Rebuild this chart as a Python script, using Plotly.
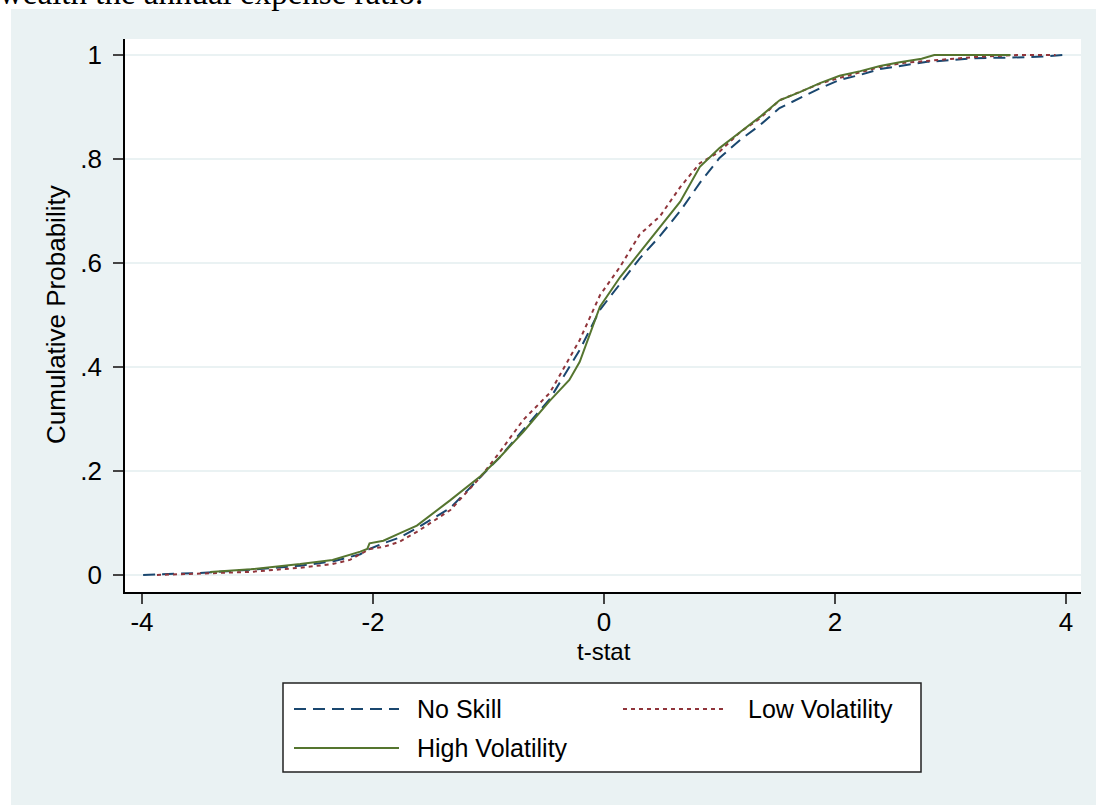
import plotly.graph_objects as go

noskill_x = [-3.99, -3.5, -3.06, -2.63, -2.35, -2.11, -2.03, -1.91, -1.77, -1.62, -1.33, -1.07, -0.9, -0.7,
             -0.47, -0.21, -0.035, 0.14, 0.31, 0.485, 0.66, 0.83, 1.0, 1.18, 1.35, 1.52, 1.70, 1.87, 2.04,
             2.22, 2.39, 2.56, 2.8, 3.0, 3.2, 3.5, 3.8, 3.97]
noskill_y = [0.0, 0.004, 0.01, 0.018, 0.026, 0.04, 0.05, 0.061, 0.072, 0.09, 0.129, 0.188, 0.227, 0.279,
             0.338, 0.433, 0.51, 0.56, 0.609, 0.652, 0.700, 0.754, 0.802, 0.837, 0.865, 0.898, 0.917, 0.936,
             0.952, 0.962, 0.973, 0.979, 0.987, 0.99, 0.994, 0.995, 0.997, 1.0]

lowvol_x = [-3.87, -3.4, -3.06, -2.63, -2.35, -2.2, -2.03, -1.91, -1.77, -1.62, -1.33, -1.07, -0.9, -0.7,
            -0.47, -0.21, -0.035, 0.14, 0.31, 0.485, 0.66, 0.83, 1.0, 1.18, 1.35, 1.52, 1.70, 1.87, 2.04,
            2.22, 2.39, 2.6, 2.9, 3.2, 3.57, 3.91]
lowvol_y = [0.0, 0.003, 0.006, 0.014, 0.021, 0.029, 0.05, 0.054, 0.064, 0.083, 0.125, 0.188, 0.237, 0.298,
            0.35, 0.452, 0.538, 0.593, 0.655, 0.69, 0.746, 0.792, 0.814, 0.852, 0.878, 0.913, 0.93, 0.945,
            0.956, 0.967, 0.977, 0.985, 0.99, 0.996, 1.0, 1.0]

highvol_x = [-3.41, -3.06, -2.63, -2.35, -2.11, -2.05, -2.03, -1.91, -1.77, -1.62, -1.33, -1.07, -0.9, -0.7,
             -0.47, -0.3, -0.21, -0.035, 0.14, 0.31, 0.485, 0.66, 0.83, 1.0, 1.18, 1.35, 1.52, 1.70, 1.87,
             2.04, 2.22, 2.39, 2.56, 2.75, 2.86, 3.52]
highvol_y = [0.006, 0.011, 0.021, 0.029, 0.045, 0.05, 0.061, 0.066, 0.08, 0.095, 0.144, 0.19, 0.227, 0.275,
             0.335, 0.375, 0.41, 0.516, 0.573, 0.621, 0.669, 0.718, 0.785, 0.821, 0.852, 0.881, 0.913, 0.929,
             0.946, 0.96, 0.969, 0.979, 0.986, 0.993, 1.0, 1.0]

series_names = ["No Skill", "Low Volatility", "High Volatility"]
x_ticks = [-4, -2, 0, 2, 4]
x_ticklabels = ["-4", "-2", "0", "2", "4"]
y_ticks = [0, 0.2, 0.4, 0.6, 0.8, 1]
y_ticklabels = ["0", ".2", ".4", ".6", ".8", "1"]

# ---- styling ----
W, H = 1096, 805
L, R, T, B = 125, 1081, 39, 592
BG = "#EAF2F3"
NAVY = "#1A476F"
MAROON = "#90353B"
GREEN = "#55752F"
FONT = "Liberation Sans, Arial, sans-serif"
BLUE_DASH = "12px,7px"
RED_DASH = "4px,4px"


def px(xp):
    return (xp - L) / (R - L)


def py(yp):
    return (B - yp) / (B - T)


fig = go.Figure()
fig.add_trace(go.Scatter(x=noskill_x, y=noskill_y, mode="lines", name=series_names[0],
                         line=dict(color=NAVY, width=2, dash=BLUE_DASH), showlegend=False))
fig.add_trace(go.Scatter(x=lowvol_x, y=lowvol_y, mode="lines", name=series_names[1],
                         line=dict(color=MAROON, width=2, dash=RED_DASH), showlegend=False))
fig.add_trace(go.Scatter(x=highvol_x, y=highvol_y, mode="lines", name=series_names[2],
                         line=dict(color=GREEN, width=2), showlegend=False))

shapes = [
    # outer graph region
    dict(type="rect", xref="paper", yref="paper", x0=px(11), x1=px(W + 5), y0=py(H + 5), y1=py(9),
         fillcolor=BG, line=dict(width=0), layer="below"),
    # plot region
    dict(type="rect", xref="paper", yref="paper", x0=0, x1=1, y0=0, y1=1,
         fillcolor="white", line=dict(width=0), layer="below"),
    # legend box
    dict(type="rect", xref="paper", yref="paper", x0=px(283), x1=px(921), y0=py(772), y1=py(683),
         fillcolor="white", line=dict(color="#222222", width=1.5), layer="above"),
]

annotations = []
legend_items = [
    (series_names[0], NAVY, BLUE_DASH, 294, 399, 415, 709),
    (series_names[1], MAROON, RED_DASH, 623, 724, 746, 709),
    (series_names[2], GREEN, "solid", 294, 399, 415, 748),
]
for name, col, dash, x0, x1, xt, yr in legend_items:
    shapes.append(dict(type="line", xref="paper", yref="paper", x0=px(x0), x1=px(x1), y0=py(yr), y1=py(yr),
                       line=dict(color=col, width=2, dash=dash), layer="above"))
    annotations.append(dict(text=name, xref="paper", yref="paper", x=px(xt), y=py(yr), xanchor="left",
                            yanchor="middle", showarrow=False, font=dict(family=FONT, size=25, color="black")))

# axis titles
annotations.append(dict(text="t-stat", xref="paper", yref="paper", x=px(604), y=py(651), xanchor="center",
                        yanchor="middle", showarrow=False, font=dict(family=FONT, size=24, color="black")))
annotations.append(dict(text="Cumulative Probability", xref="paper", yref="paper", x=px(56), y=py(315),
                        xanchor="center", yanchor="middle", textangle=-90, showarrow=False,
                        font=dict(family=FONT, size=26, color="black")))
# page text cut at the top
annotations.append(dict(text="wealth the annual expense ratio.", xref="paper", yref="paper", x=px(-3),
                        y=py(-7), xanchor="left", yanchor="middle", showarrow=False,
                        font=dict(family="Liberation Serif, Times New Roman, serif", size=33, color="black")))

fig.update_layout(
    width=W, height=H,
    margin=dict(l=L, r=W - R, t=T, b=H - B, autoexpand=False),
    paper_bgcolor="white",
    plot_bgcolor="rgba(0,0,0,0)",
    shapes=shapes,
    annotations=annotations,
    showlegend=False,
    font=dict(family=FONT, color="black"),
)
fig.update_xaxes(range=[-4.147, 4.13], tickvals=x_ticks, ticktext=x_ticklabels, ticks="outside",
                 ticklen=10, tickwidth=1.5, tickcolor="#444444", showgrid=False, zeroline=False,
                 showline=True, linecolor="black", linewidth=1.5, tickfont=dict(family=FONT, size=26),
                 ticklabelstandoff=-4, automargin=False)
fig.update_yaxes(range=[-0.0327, 1.0308], tickvals=y_ticks, ticktext=y_ticklabels, ticks="outside",
                 ticklen=10, tickwidth=1.5, tickcolor="#444444", showgrid=True, gridcolor=BG, gridwidth=2,
                 zeroline=False, showline=True, linecolor="black", linewidth=1.5,
                 tickfont=dict(family=FONT, size=26), ticklabelstandoff=6, automargin=False)

fig.write_html("out.html", config={"displayModeBar": False},
               post_script="document.body.style.margin='0px';")
